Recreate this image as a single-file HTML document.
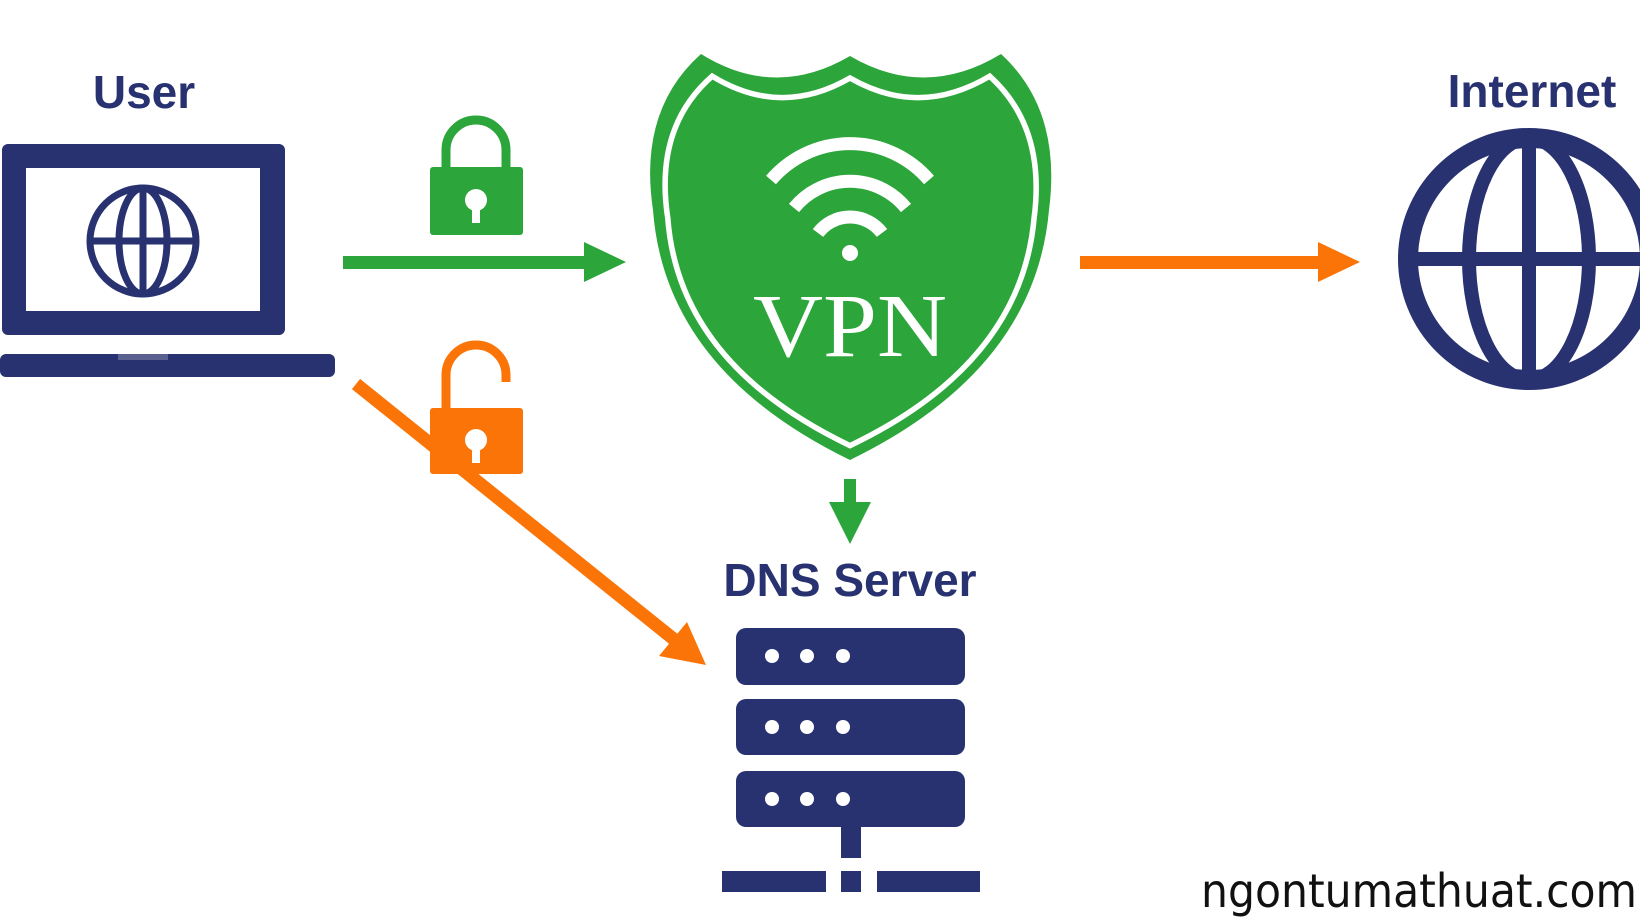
<!DOCTYPE html>
<html><head><meta charset="utf-8"><style>
html,body{margin:0;padding:0;background:#fff;width:1640px;height:924px;overflow:hidden}
svg{display:block}
</style></head><body>
<svg width="1640" height="924" viewBox="0 0 1640 924" xmlns="http://www.w3.org/2000/svg">
<defs>
<path id="sh" d="M701,54 Q775,100 850,56 Q925,100 1001,54 Q1062,110 1049,210 Q1035,370 850,460 Q665,370 653,210 Q638,110 701,54 Z"/>
</defs>
<!-- User -->
<text x="144" y="108" text-anchor="middle" font-family="Liberation Sans, sans-serif" font-weight="bold" font-size="46" fill="#283270">User</text>
<rect x="2" y="144" width="283" height="191" rx="6" fill="#283270"/>
<rect x="26" y="168" width="234" height="143" fill="#fff"/>
<rect x="0" y="354" width="335" height="23" rx="6" fill="#283270"/>
<rect x="118" y="354" width="50" height="6" fill="#5a6190"/>
<g fill="none" stroke="#283270" stroke-width="7">
<circle cx="143" cy="241" r="53"/>
<ellipse cx="143" cy="241" rx="24" ry="53"/>
<line x1="143" y1="188" x2="143" y2="294"/>
<line x1="90" y1="241" x2="196" y2="241"/>
</g>
<!-- green arrow -->
<rect x="343" y="256" width="250" height="13" fill="#2ca53a"/>
<polygon points="584,242 626,262 584,282" fill="#2ca53a"/>
<!-- green lock -->
<path d="M446,167 V150 A30,30 0 0 1 506,150 V167" fill="none" stroke="#2ca53a" stroke-width="9"/>
<rect x="430" y="167" width="93" height="68" rx="3" fill="#2ca53a"/>
<circle cx="476" cy="200" r="11" fill="#fff"/><rect x="472" y="203" width="8" height="20" fill="#fff"/>
<!-- orange line -->
<line x1="356" y1="384" x2="676" y2="641" stroke="#fb7407" stroke-width="13"/>
<polygon points="706,665 659,656 687,622" fill="#fb7407"/>
<!-- orange lock -->
<path d="M446,408 V375 A30,30 0 0 1 506,375 V382" fill="none" stroke="#fb7407" stroke-width="9"/>
<rect x="430" y="408" width="93" height="66" rx="3" fill="#fb7407"/>
<circle cx="476" cy="440" r="11" fill="#fff"/><rect x="472" y="443" width="8" height="20" fill="#fff"/>
<!-- shield -->
<use href="#sh" fill="#2ca53a"/>
<use href="#sh" fill="none" stroke="#fff" stroke-width="6" transform="translate(850,250) scale(0.925,0.91) translate(-850,-245)"/>
<g fill="none" stroke="#fff" stroke-width="13" stroke-linecap="butt">
<path d="M771,180 A104,104 0 0 1 929,180"/>
<path d="M794,208 A72,72 0 0 1 906,208"/>
<path d="M818,233 A40,40 0 0 1 882,233"/>
</g>
<circle cx="850" cy="253" r="8" fill="#fff"/>
<text x="850" y="356" text-anchor="middle" font-family="Liberation Serif, serif" font-size="90" fill="#fff" textLength="194" lengthAdjust="spacingAndGlyphs">VPN</text>
<!-- down arrow -->
<rect x="844" y="479" width="12" height="25" fill="#2ca53a"/>
<polygon points="829,502 871,502 850,544" fill="#2ca53a"/>
<!-- DNS -->
<text x="850" y="596" text-anchor="middle" font-family="Liberation Sans, sans-serif" font-weight="bold" font-size="46" fill="#283270">DNS Server</text>
<g fill="#283270">
<rect x="736" y="628" width="229" height="57" rx="10"/>
<rect x="736" y="699" width="229" height="56" rx="10"/>
<rect x="736" y="771" width="229" height="56" rx="10"/>
<rect x="841" y="827" width="20" height="31"/>
<rect x="722" y="871" width="104" height="21"/>
<rect x="841" y="871" width="20" height="21"/>
<rect x="877" y="871" width="103" height="21"/>
</g>
<g fill="#fff">
<circle cx="772" cy="656" r="7"/><circle cx="807" cy="656" r="7"/><circle cx="843" cy="656" r="7"/>
<circle cx="772" cy="727" r="7"/><circle cx="807" cy="727" r="7"/><circle cx="843" cy="727" r="7"/>
<circle cx="772" cy="799" r="7"/><circle cx="807" cy="799" r="7"/><circle cx="843" cy="799" r="7"/>
</g>
<!-- orange arrow right -->
<rect x="1080" y="256" width="245" height="13" fill="#fb7407"/>
<polygon points="1318,242 1360,262 1318,282" fill="#fb7407"/>
<!-- Internet -->
<text x="1532" y="107" text-anchor="middle" font-family="Liberation Sans, sans-serif" font-weight="bold" font-size="46" fill="#283270">Internet</text>
<g fill="none" stroke="#283270" stroke-width="20">
<circle cx="1529" cy="259" r="121"/>
<ellipse cx="1529" cy="259" rx="60" ry="121" stroke-width="14"/>
<line x1="1529" y1="138" x2="1529" y2="380" stroke-width="14"/>
<line x1="1408" y1="259" x2="1650" y2="259" stroke-width="14"/>
</g>
<!-- watermark -->
<text x="1201" y="907" font-family="DejaVu Sans, Liberation Sans, sans-serif" font-size="46" fill="#111" textLength="436" lengthAdjust="spacingAndGlyphs">ngontumathuat.com</text>
</svg>
</body></html>
